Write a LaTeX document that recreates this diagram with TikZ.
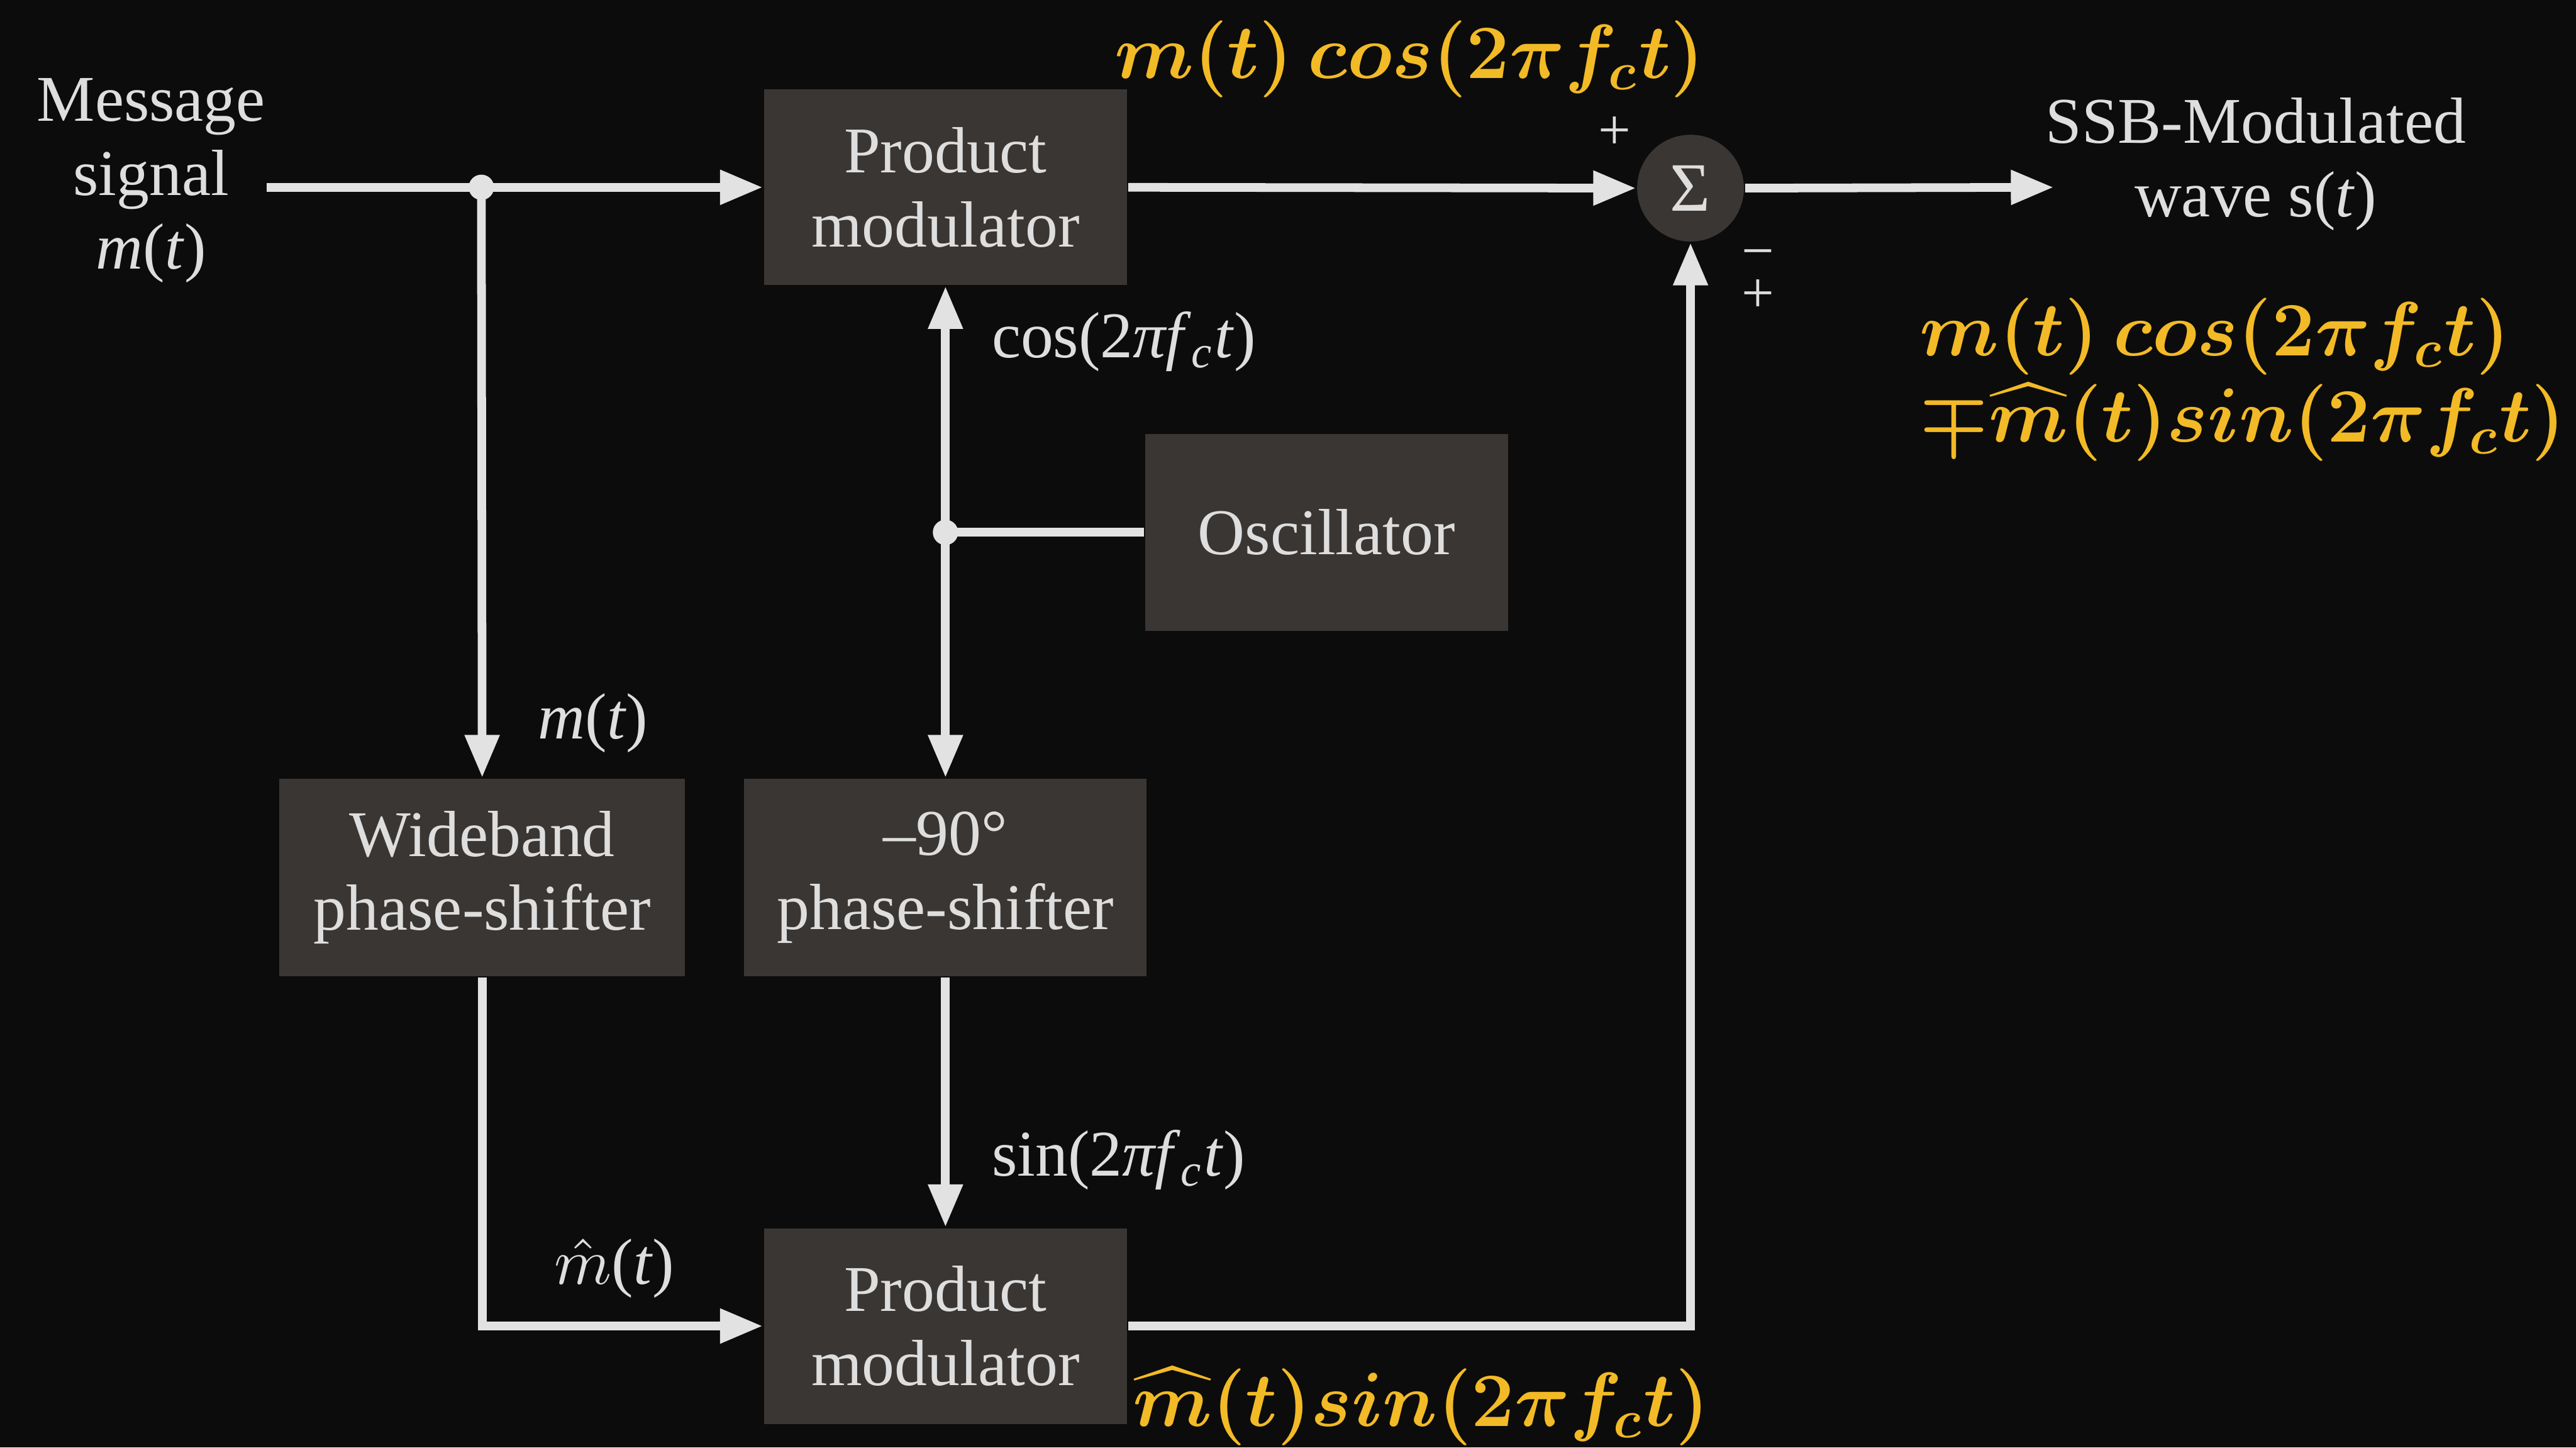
\RequirePackage{fix-cm}
\documentclass[tikz,border=0pt]{standalone}
\usepackage{fontspec}
\usepackage{amsmath,amssymb}
\setmainfont{Liberation Serif}
\usetikzlibrary{positioning,arrows.meta}
\definecolor{bg}{RGB}{12,12,12}
\definecolor{boxgray}{RGB}{58,54,51}
\definecolor{wirecol}{RGB}{226,226,226}
\definecolor{txt}{RGB}{222,222,222}
\definecolor{formula}{RGB}{242,186,38}
\tikzset{
    blk/.style={fill=boxgray, text=txt, align=center, inner sep=0pt,
        minimum width=2.21cm, minimum height=1.19cm, font=\fontsize{11.3}{12.8}\selectfont},
    wire/.style={draw=wirecol, line width=1.5pt},
    sig/.style={wire, -{Triangle[length=0.26cm,width=0.2cm]}},
    lbl/.style={text=txt, inner sep=0pt, font=\fontsize{11.3}{12.8}\selectfont},
    yel/.style={text=formula, inner sep=0pt, font=\fontsize{13.3}{15}\selectfont},
}
\begin{document}
\begin{tikzpicture}
                \useasboundingbox (0,0) rectangle (15.68,-8.81);
                \fill[bg] (0,0) rectangle (15.68,-8.81);
                % blocks
                \node[blk] (topmod) at (5.755,-1.14) {Product\\modulator};
                \node[blk] (botmod) at (5.755,-8.07) {Product\\modulator};
                \node[blk, minimum height=1.2cm] (osc) at (8.075,-3.24) {Oscillator};
                \node[blk, minimum width=2.47cm, minimum height=1.2cm] (wide) at (2.935,-5.34) {Wideband\\phase-shifter};
                \node[blk, minimum width=2.45cm, minimum height=1.2cm] (shift) at (5.755,-5.34) {–90°\\phase-shifter};
                \node[circle, fill=boxgray, text=txt, minimum size=0.65cm, inner sep=0pt,
                    font=\fontsize{12}{12}\selectfont] (sum) at (10.29,-1.145) {Σ};
                % input and output
                \node[lbl, align=center] (msg) at (0.92,-1.10) {Message\\signal\\\textit{m}(\textit{t})};
                \node[lbl, align=center] (ssb) at (13.73,-1.00) {SSB-Modulated\\wave s(\textit{t})};
                \coordinate (j1) at (2.93,-1.14);
                \coordinate (j2) at (5.755,-3.24);
                \coordinate (out) at (12.50,-1.14);
                % connections
                \draw[sig] (msg.east |- j1) -- (topmod.west);
                \draw[sig] (topmod.east) -- (sum.west);
                \draw[sig] (sum.east) -- (out);
                \draw[sig] (j1) -- (wide.north);
                \draw[wire] (osc.west) -- (j2);
                \draw[sig] (j2) -- (topmod.south);
                \draw[sig] (j2) -- (shift.north);
                \draw[sig] (shift.south) -- (botmod.north);
                \draw[sig] (wide.south) |- (botmod.west);
                \draw[sig] (botmod.east) -| (sum.south);
                \filldraw[wirecol] (j1) circle (0.07);
                \filldraw[wirecol] (j2) circle (0.07);
                % signal labels
                \node[lbl, anchor=west] (coslbl) at (6.03,-2.08) {cos(2\textit{πf}\textsubscript{\textit{c}}\textit{t})};
                \node[lbl, anchor=west] (sinlbl) at (6.03,-7.06) {sin(2\textit{πf}\textsubscript{\textit{c}}\textit{t})};
                \node[lbl] (mlbl) at (3.61,-4.40) {\textit{m}(\textit{t})};
                \node[lbl] (mhatlbl) at (3.74,-7.72) {\(\hat{m}\)(\textit{t})};
                \node[lbl, font=\fontsize{10}{10}\selectfont] (plus1) at (9.83,-0.81) {+};
                \node[lbl, font=\fontsize{10}{10}\selectfont] (minus2) at (10.70,-1.58) {−};
                \node[lbl, font=\fontsize{10}{10}\selectfont] (plus2) at (10.70,-1.80) {+};
                % formulas
                \node[yel] (ftop) at (8.58,-0.36) {\(\boldsymbol{m(t)\,cos(2\pi f_c t)}\)};
                \node[yel] (fbot) at (8.65,-8.56) {\(\boldsymbol{\widehat{m}(t)sin(2\pi f_c t)}\)};
                \node[yel, align=left, anchor=west] (fout) at (11.68,-2.31)
                    {\(\boldsymbol{m(t)\,cos(2\pi f_c t)}\)\\\(\boldsymbol{\mp\widehat{m}(t)sin(2\pi f_c t)}\)};
            \end{tikzpicture}
\end{document}
